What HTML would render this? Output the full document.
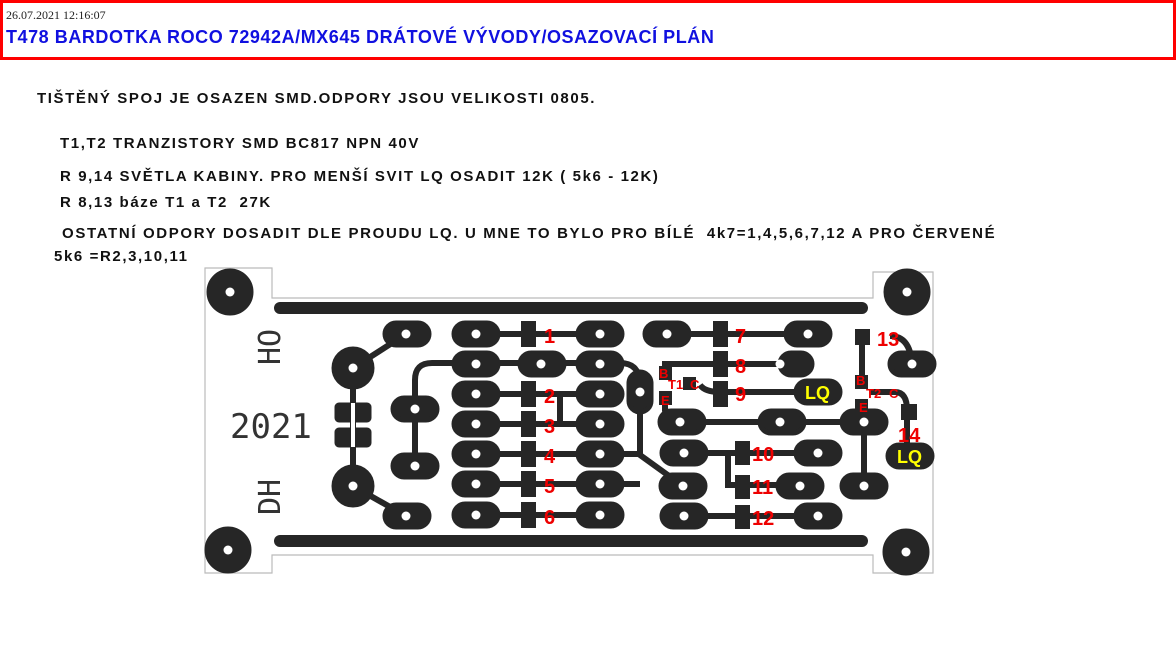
<!DOCTYPE html>
<html><head><meta charset="utf-8"><style>
body{margin:0;width:1176px;height:663px;background:#fff;position:relative;overflow:hidden;font-family:"Liberation Sans",sans-serif}
.hd{position:absolute;left:0;top:0;width:1170px;height:54px;border:3px solid #f00;}
.t{position:absolute;font-weight:bold;color:#111;font-size:15px;white-space:nowrap;letter-spacing:1.6px}
</style></head><body>
<div class="hd"></div>
<div style="position:absolute;left:6px;top:8px;font-size:12px;font-family:'Liberation Serif',serif;color:#222">26.07.2021 12:16:07</div>
<div style="position:absolute;left:6px;top:27px;font-size:18px;font-weight:bold;color:#1010e0;letter-spacing:0.55px">T478 BARDOTKA ROCO 72942A/MX645 DRÁTOVÉ VÝVODY/OSAZOVACÍ PLÁN</div>
<div class="t" style="left:37px;top:90px">TIŠTĚNÝ SPOJ JE OSAZEN SMD.ODPORY JSOU VELIKOSTI 0805.</div>
<div class="t" style="left:60px;top:135px">T1,T2 TRANZISTORY SMD BC817 NPN 40V</div>
<div class="t" style="left:60px;top:168px">R 9,14 SVĚTLA KABINY. PRO MENŠÍ SVIT LQ OSADIT 12K ( 5k6 - 12K)</div>
<div class="t" style="left:60px;top:194px">R 8,13 báze T1 a T2&nbsp; 27K</div>
<div class="t" style="left:62px;top:225px;letter-spacing:1.65px">OSTATNÍ ODPORY DOSADIT DLE PROUDU LQ. U MNE TO BYLO PRO BÍLÉ&nbsp; 4k7=1,4,5,6,7,12 A PRO ČERVENÉ</div>
<div class="t" style="left:54px;top:248px">5k6 =R2,3,10,11</div>
<svg style="position:absolute;left:0;top:0" width="1176" height="663">
<g fill="none" stroke="#bbb" stroke-width="1.2">
<path d="M205 268 H272 V298 H873 V272 H933 V573 H873 V555 H272 V573 H205 Z"/>
</g>
<g fill="#262626" stroke="#262626">
<circle cx="230" cy="292" r="23"/><circle cx="228" cy="550" r="23"/>
<circle cx="907" cy="292" r="23"/><circle cx="906" cy="552" r="23"/>
<line x1="280" y1="308" x2="862" y2="308" stroke-width="12" stroke-linecap="round"/>
<line x1="280" y1="541" x2="862" y2="541" stroke-width="12" stroke-linecap="round"/>
<g stroke-width="6" fill="none">
<path d="M353 368 L406 334"/><path d="M353 486 L406 516"/>
<path d="M353 368 V486"/>
<path d="M415 466 V380 Q415 363 432 363 H620 Q640 363 640 385 V455 L683 486"/>
<path d="M476 334 H600"/><path d="M476 394 H600"/><path d="M476 424 H600"/><path d="M476 454 H600"/><path d="M476 484 H600"/><path d="M476 515 H600"/>
<path d="M541 394 H560 V424"/>
<path d="M600 454 H640"/><path d="M560 484 H640"/>
<path d="M667 334 H808"/><path d="M665 372 V364 H740"/><path d="M740 364 H808"/>
<path d="M700 385 Q705 392 720 392 H818"/>
<path d="M665 398 V410 L680 422 H864"/><path d="M684 453 H740 M740 453 H818"/>
<path d="M728 453 V485 H800"/><path d="M684 516 H818"/>
<path d="M864 424 V486"/>
<path d="M862 380 V336 H866"/><path d="M890 336 Q910 336 912 364"/>
<path d="M870 392 H895 Q907 392 907 410"/><path d="M907 410 V456"/>
</g>
<circle cx="353" cy="368" r="21"/><circle cx="353" cy="486" r="21"/>
<rect x="335" y="403" width="36" height="19" rx="4"/><rect x="335" y="428" width="36" height="19" rx="4"/>
<g stroke-width="5">
<rect x="385" y="323" width="44" height="22" rx="11"/><rect x="385" y="505" width="44" height="22" rx="11"/>
<rect x="393" y="398" width="44" height="22" rx="11"/><rect x="393" y="455" width="44" height="22" rx="11"/>
<rect x="454" y="323" width="44" height="22" rx="11"/><rect x="454" y="353" width="44" height="22" rx="11"/>
<rect x="454" y="383" width="44" height="22" rx="11"/><rect x="454" y="413" width="44" height="22" rx="11"/>
<rect x="454" y="443" width="44" height="22" rx="11"/><rect x="454" y="473" width="44" height="22" rx="11"/>
<rect x="454" y="504" width="44" height="22" rx="11"/>
<rect x="520" y="353" width="44" height="22" rx="11"/>
<rect x="578" y="323" width="44" height="22" rx="11"/><rect x="578" y="353" width="44" height="22" rx="11"/>
<rect x="578" y="383" width="44" height="22" rx="11"/><rect x="578" y="413" width="44" height="22" rx="11"/>
<rect x="578" y="443" width="44" height="22" rx="11"/><rect x="578" y="473" width="44" height="22" rx="11"/>
<rect x="578" y="504" width="44" height="22" rx="11"/>
<rect x="629" y="372" width="22" height="40" rx="11"/>
<rect x="645" y="323" width="44" height="22" rx="11"/><rect x="786" y="323" width="44" height="22" rx="11"/>
<rect x="780" y="353" width="32" height="22" rx="11"/>
<rect x="796" y="381" width="44" height="22" rx="11"/>
<rect x="660" y="411" width="44" height="22" rx="11"/><rect x="760" y="411" width="44" height="22" rx="11"/><rect x="842" y="411" width="44" height="22" rx="11"/>
<rect x="662" y="442" width="44" height="22" rx="11"/><rect x="796" y="442" width="44" height="22" rx="11"/>
<rect x="661" y="475" width="44" height="22" rx="11"/><rect x="778" y="475" width="44" height="22" rx="11"/><rect x="842" y="475" width="44" height="22" rx="11"/>
<rect x="662" y="505" width="44" height="22" rx="11"/><rect x="796" y="505" width="44" height="22" rx="11"/>
<rect x="890" y="353" width="44" height="22" rx="11"/><rect x="888" y="445" width="44" height="22" rx="11"/>
</g>
<g stroke="none">
<rect x="521" y="321" width="15" height="26"/><rect x="521" y="381" width="15" height="26"/><rect x="521" y="411" width="15" height="26"/><rect x="521" y="441" width="15" height="26"/><rect x="521" y="471" width="15" height="26"/><rect x="521" y="502" width="15" height="26"/>
<rect x="713" y="321" width="15" height="26"/><rect x="713" y="351" width="15" height="26"/><rect x="713" y="381" width="15" height="26"/>
<rect x="659" y="366" width="13" height="14"/><rect x="659" y="391" width="13" height="14"/><rect x="683" y="377" width="13" height="13"/>
<rect x="735" y="441" width="15" height="24"/><rect x="735" y="475" width="15" height="24"/><rect x="735" y="505" width="15" height="24"/>
<rect x="855" y="329" width="15" height="16"/><rect x="855" y="375" width="13" height="14"/><rect x="855" y="399" width="13" height="14"/><rect x="901" y="404" width="16" height="16"/>
</g>
</g>
<g fill="#fff">
<circle cx="230" cy="292" r="4.5"/><circle cx="228" cy="550" r="4.5"/><circle cx="907" cy="292" r="4.5"/><circle cx="906" cy="552" r="4.5"/>
<circle cx="353" cy="368" r="4.5"/><circle cx="353" cy="486" r="4.5"/>
<circle cx="406" cy="334" r="4.5"/><circle cx="406" cy="516" r="4.5"/><circle cx="415" cy="409" r="4.5"/><circle cx="415" cy="466" r="4.5"/>
<circle cx="476" cy="334" r="4.5"/><circle cx="476" cy="364" r="4.5"/><circle cx="476" cy="394" r="4.5"/><circle cx="476" cy="424" r="4.5"/><circle cx="476" cy="454" r="4.5"/><circle cx="476" cy="484" r="4.5"/><circle cx="476" cy="515" r="4.5"/>
<circle cx="541" cy="364" r="4.5"/>
<circle cx="600" cy="334" r="4.5"/><circle cx="600" cy="364" r="4.5"/><circle cx="600" cy="394" r="4.5"/><circle cx="600" cy="424" r="4.5"/><circle cx="600" cy="454" r="4.5"/><circle cx="600" cy="484" r="4.5"/><circle cx="600" cy="515" r="4.5"/>
<circle cx="640" cy="392" r="4.5"/><circle cx="667" cy="334" r="4.5"/><circle cx="808" cy="334" r="4.5"/><circle cx="780" cy="364" r="4.5"/>
<circle cx="680" cy="422" r="4.5"/><circle cx="780" cy="422" r="4.5"/><circle cx="864" cy="422" r="4.5"/>
<circle cx="684" cy="453" r="4.5"/><circle cx="818" cy="453" r="4.5"/><circle cx="683" cy="486" r="4.5"/><circle cx="800" cy="486" r="4.5"/><circle cx="864" cy="486" r="4.5"/>
<circle cx="684" cy="516" r="4.5"/><circle cx="818" cy="516" r="4.5"/><circle cx="912" cy="364" r="4.5"/>
<rect x="351" y="403" width="4" height="44"/>
</g>
<g font-family="'DejaVu Sans Mono',monospace" fill="#333" font-size="34">
<text x="230" y="438">2021</text>
<text transform="translate(280,365) rotate(-90)" font-size="30">HO</text>
<text transform="translate(280,515) rotate(-90)" font-size="30">DH</text>
</g>
<g font-family="'Liberation Sans',sans-serif" font-weight="bold" fill="#e00" font-size="20">
<text x="544" y="343">1</text><text x="544" y="403">2</text><text x="544" y="433">3</text><text x="544" y="463">4</text><text x="544" y="493">5</text><text x="544" y="524">6</text>
<text x="735" y="343">7</text><text x="735" y="373">8</text><text x="735" y="401">9</text>
<text x="752" y="461">10</text><text x="752" y="494">11</text><text x="752" y="525">12</text>
<text x="877" y="346">13</text><text x="898" y="442">14</text>
<g font-size="13"><text x="659" y="378">B</text><text x="668" y="389">T1</text><text x="690" y="389">C</text><text x="661" y="405">E</text>
<text x="856" y="385">B</text><text x="866" y="398">T2</text><text x="889" y="398">C</text><text x="859" y="412">E</text></g>
</g>
<g font-family="'Liberation Sans',sans-serif" font-weight="bold" fill="#ff0" font-size="18">
<text x="805" y="399">LQ</text><text x="897" y="463">LQ</text>
</g>
</svg>
</body></html>
